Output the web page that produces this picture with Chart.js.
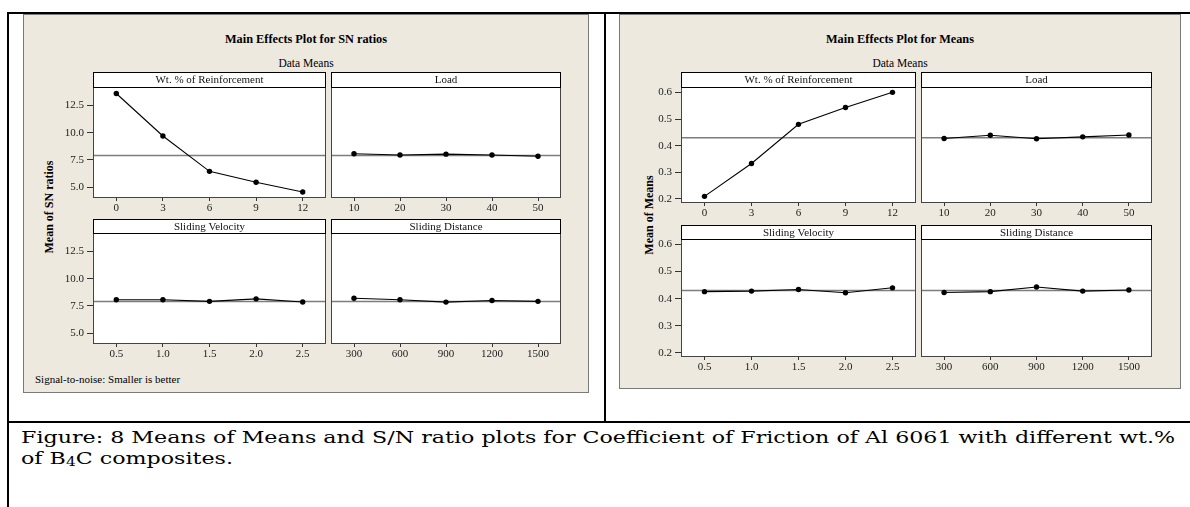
<!DOCTYPE html>
<html>
<head>
<meta charset="utf-8">
<script src="https://cdn.jsdelivr.net/npm/chart.js@4.4.1/dist/chart.umd.min.js"></script>
<style>
  html, body { margin: 0; padding: 0; background: #fff; }
  body { width: 1190px; height: 507px; position: relative; overflow: hidden; font-family: "Liberation Serif", serif; }
  .rule { position: absolute; background: #000; }
  .frame { position: absolute; background: #EDE9DF; border: 1px solid #7a7a7a; box-sizing: border-box; }
  .txt { position: absolute; transform: translate(-50%, -50%); white-space: nowrap; color: #000; }
  .ytitle { position: absolute; transform: translate(-50%, -50%) rotate(-90deg); white-space: nowrap; font-weight: bold; font-size: 12px; }
  .caption { position: absolute; left: 21px; font-family: "DejaVu Serif", serif; font-size: 17.5px; line-height: 21px; white-space: nowrap; color: #000; transform-origin: 0 0; }
  .caption sub { font-size: 70%; vertical-align: -2px; line-height: 0; }
  canvas { position: absolute; }
</style>
</head>
<body>
<!-- table lines of the document -->
<div class="rule" style="left:7px;top:12px;width:1183px;height:2px"></div>
<div class="rule" style="left:7px;top:12px;width:2px;height:495px"></div>
<div class="rule" style="left:604px;top:12px;width:2px;height:411px"></div>
<div class="rule" style="left:7px;top:421px;width:1183px;height:2px"></div>

<!-- minitab graph backgrounds -->
<div class="frame" style="left:23px;top:14px;width:566px;height:379px"></div>
<div class="frame" style="left:619px;top:14px;width:562px;height:375px"></div>

<div class="txt" style="left:306px;top:39px;font-weight:bold;font-size:12.3px">Main Effects Plot for SN ratios</div>
<div class="txt" style="left:306px;top:63px;font-size:11.5px">Data Means</div>
<div class="txt" style="left:900px;top:39px;font-weight:bold;font-size:12.3px">Main Effects Plot for Means</div>
<div class="txt" style="left:900px;top:63px;font-size:11.5px">Data Means</div>

<div class="ytitle" style="left:49px;top:207px">Mean of SN ratios</div>
<div class="ytitle" style="left:649px;top:215px">Mean of Means</div>

<div style="position:absolute;left:35px;top:372px;font-size:11px;line-height:14px">Signal-to-noise: Smaller is better</div>

<div class="caption" id="cap1" style="top:427px"></div>
<div class="caption" id="cap2" style="top:448px"></div>

<script>
// factor levels (x tick labels)
const wtLevels = ['0', '3', '6', '9', '12'];
const loadLevels = ['10', '20', '30', '40', '50'];
const velocityLevels = ['0.5', '1.0', '1.5', '2.0', '2.5'];
const distanceLevels = ['300', '600', '900', '1200', '1500'];

// Main effects for SN ratios
const snWt = [13.6, 9.7, 6.45, 5.45, 4.55];
const snLoad = [8.07, 7.95, 8.03, 7.95, 7.84];
const snVelocity = [8.07, 8.07, 7.92, 8.15, 7.86];
const snDistance = [8.2, 8.06, 7.85, 8.0, 7.92];
const snGrandMean = 7.9;
const snTicks = [5.0, 7.5, 10.0, 12.5];

// Main effects for Means
const meanWt = [0.21, 0.333, 0.48, 0.543, 0.6];
const meanLoad = [0.427, 0.439, 0.426, 0.433, 0.44];
const meanVelocity = [0.426, 0.428, 0.434, 0.422, 0.44];
const meanDistance = [0.423, 0.426, 0.443, 0.428, 0.432];
const meansGrandMean = 0.43;
const meanTicks = [0.2, 0.3, 0.4, 0.5, 0.6];

const captionLine1 = 'Figure: 8 Means of Means and S/N ratio plots for Coefficient of Friction of Al 6061 with different wt.%';
const captionLine2 = 'of B<sub>4</sub>C composites.';

const tickFont = { family: 'Liberation Serif', size: 11 };

// draws the white panel, strip header, reference line and frame
const framePlugin = {
  id: 'frame',
  beforeDraw(chart, args, o) {
    const { ctx, chartArea: a } = chart;
    ctx.save();
    ctx.fillStyle = '#fff';
    ctx.fillRect(a.left, a.top - o.headH, a.right - a.left, a.bottom - a.top + o.headH);
    ctx.restore();
  },
  beforeDatasetsDraw(chart, args, o) {
    const { ctx, chartArea: a } = chart;
    const y = chart.scales.y.getPixelForValue(o.mean);
    ctx.save();
    ctx.strokeStyle = '#7d7d7d';
    ctx.lineWidth = 1.5;
    ctx.beginPath();
    ctx.moveTo(a.left, y);
    ctx.lineTo(a.right, y);
    ctx.stroke();
    ctx.restore();
  },
  afterDraw(chart, args, o) {
    const { ctx, chartArea: a } = chart;
    const w = a.right - a.left - 1;
    ctx.save();
    ctx.lineWidth = 1;
    ctx.strokeStyle = '#444';
    ctx.strokeRect(a.left + 0.5, a.top + 0.5, w, a.bottom - a.top - 1);
    ctx.strokeStyle = '#000';
    ctx.strokeRect(a.left + 0.5, 0.5, w, o.headH);
    ctx.fillStyle = '#111';
    ctx.font = '11px "Liberation Serif"';
    ctx.textAlign = 'center';
    ctx.textBaseline = 'middle';
    ctx.fillText(o.head, (a.left + a.right) / 2, o.headH / 2 + 1);
    ctx.restore();
  }
};

function makePanel(p) {
  const axisW = p.axis ? 50 : 1;
  const left = p.L - axisW;
  const headH = p.T - p.HT;
  const areaRight = p.R + 1 - left;
  const areaBottom = p.B + 1 - p.HT;
  const c = document.createElement('canvas');
  c.width = areaRight + 1;
  c.height = areaBottom + 24;
  c.style.left = left + 'px';
  c.style.top = p.HT + 'px';
  document.body.appendChild(c);

  new Chart(c, {
    type: 'line',
    data: {
      labels: p.labels,
      datasets: [{
        data: p.data,
        borderColor: '#000',
        borderWidth: 1.1,
        pointRadius: 2.7,
        pointBackgroundColor: '#000',
        pointBorderWidth: 0,
        tension: 0
      }]
    },
    options: {
      responsive: false,
      animation: false,
      events: [],
      layout: { padding: { top: headH, right: 1, bottom: 0, left: p.axis ? 0 : 1 } },
      plugins: {
        legend: { display: false },
        tooltip: { enabled: false },
        frame: { head: p.head, mean: p.mean, headH: headH }
      },
      scales: {
        x: {
          offset: true,
          grid: { display: true, drawOnChartArea: false, drawTicks: true, tickLength: 3, color: '#333', offset: false },
          border: { display: false },
          ticks: { font: tickFont, color: '#222', padding: 1, maxRotation: 0, autoSkip: false },
          afterFit: (s) => { s.height = 24; }
        },
        y: {
          display: p.axis,
          min: p.min,
          max: p.max,
          afterBuildTicks: (s) => { s.ticks = p.ticks.map((v) => ({ value: v })); },
          grid: { display: true, drawOnChartArea: false, drawTicks: true, tickLength: 6, color: '#333' },
          border: { display: false },
          ticks: { font: tickFont, color: '#222', padding: 3, callback: (v) => Number(v).toFixed(1) },
          afterFit: (s) => { s.width = p.axis ? 50 : 0; }
        }
      }
    },
    plugins: [framePlugin]
  });
}

const snRange = { min: 4.0, max: 14.2, ticks: snTicks, mean: snGrandMean };
const meansRange = { min: 0.185, max: 0.62, ticks: meanTicks, mean: meansGrandMean };

[
  { ...snRange, L: 93, R: 328, HT: 72, T: 87, B: 197, axis: true, head: 'Wt. % of Reinforcement', labels: wtLevels, data: snWt },
  { ...snRange, L: 328, R: 563, HT: 72, T: 87, B: 197, axis: false, head: 'Load', labels: loadLevels, data: snLoad },
  { ...snRange, L: 93, R: 328, HT: 219, T: 233, B: 343, axis: true, head: 'Sliding Velocity', labels: velocityLevels, data: snVelocity },
  { ...snRange, L: 328, R: 563, HT: 219, T: 233, B: 343, axis: false, head: 'Sliding Distance', labels: distanceLevels, data: snDistance },
  { ...meansRange, L: 681, R: 918, HT: 72, T: 87, B: 202, axis: true, head: 'Wt. % of Reinforcement', labels: wtLevels, data: meanWt },
  { ...meansRange, L: 918, R: 1154, HT: 72, T: 87, B: 202, axis: false, head: 'Load', labels: loadLevels, data: meanLoad },
  { ...meansRange, L: 681, R: 918, HT: 225, T: 239, B: 356, axis: true, head: 'Sliding Velocity', labels: velocityLevels, data: meanVelocity },
  { ...meansRange, L: 918, R: 1154, HT: 225, T: 239, B: 356, axis: false, head: 'Sliding Distance', labels: distanceLevels, data: meanDistance }
].forEach(makePanel);

// caption: the document's caption is wider than the font, stretch it to the same span
const cap1 = document.getElementById('cap1');
const cap2 = document.getElementById('cap2');
cap1.textContent = captionLine1;
cap2.innerHTML = captionLine2;
const natural = cap1.getBoundingClientRect().width;
const stretch = 1154 / natural;
cap1.style.transform = 'scaleX(' + stretch + ')';
cap2.style.transform = 'scaleX(' + stretch + ')';
</script>
</body>
</html>
